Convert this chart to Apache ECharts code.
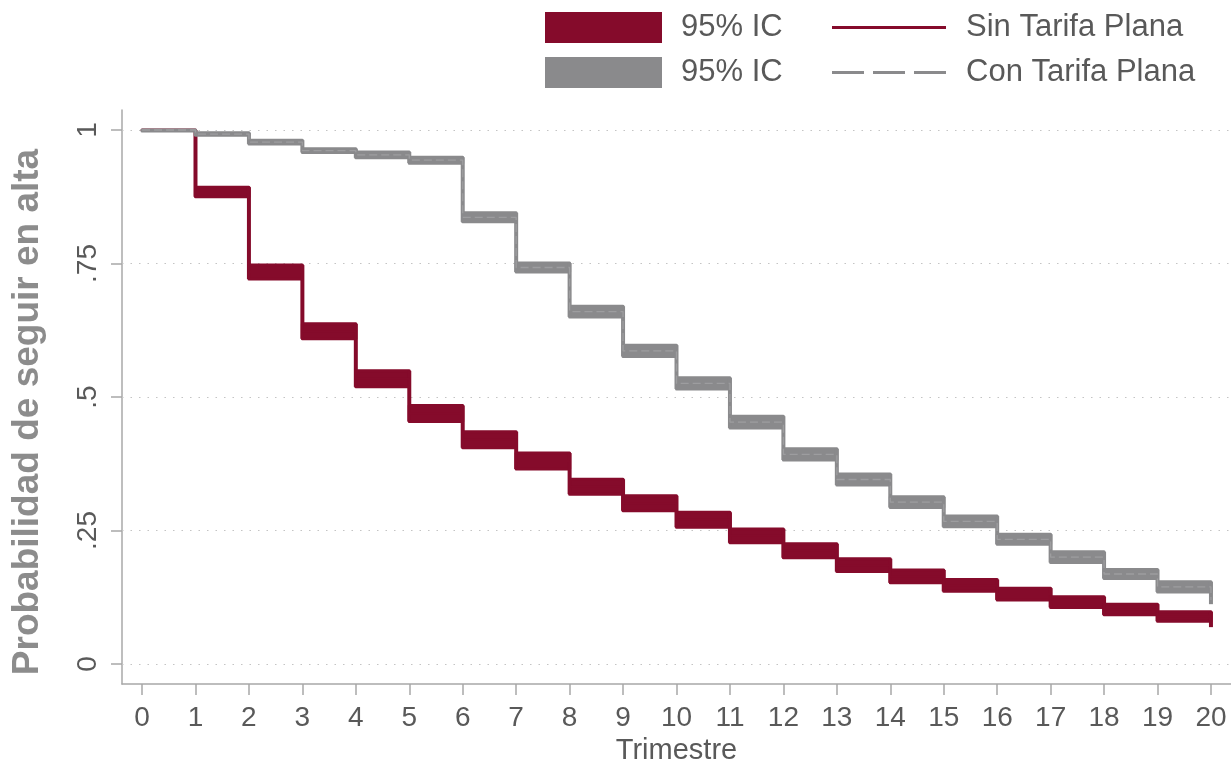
<!DOCTYPE html>
<html><head><meta charset="utf-8">
<script src="https://cdn.jsdelivr.net/npm/echarts@6/dist/echarts.min.js"></script>
<style>html,body{margin:0;padding:0;background:#fff}#c{width:1231px;height:764px}</style>
</head><body><div id="c"></div>
<script>
const quarters = [0,1,2,3,4,5,6,7,8,9,10,11,12,13,14,15,16,17,18,19,20];
const sinEst = [1, 0.884, 0.734, 0.623, 0.534, 0.469, 0.420, 0.380, 0.332, 0.301, 0.270, 0.240, 0.212, 0.185, 0.164, 0.147, 0.131, 0.116, 0.102, 0.089, 0.077];
const sinLo  = [1, 0.875, 0.721, 0.609, 0.519, 0.454, 0.405, 0.365, 0.318, 0.287, 0.256, 0.227, 0.199, 0.173, 0.152, 0.136, 0.120, 0.106, 0.092, 0.080, 0.069];
const sinHi  = [1, 0.893, 0.747, 0.637, 0.549, 0.484, 0.435, 0.395, 0.346, 0.315, 0.284, 0.253, 0.225, 0.197, 0.176, 0.158, 0.142, 0.126, 0.112, 0.098, 0.085];
const conEst = [1, 0.9925, 0.9775, 0.9615, 0.9535, 0.9435, 0.8365, 0.7425, 0.660, 0.5865, 0.5255, 0.453, 0.3925, 0.3455, 0.303, 0.267, 0.2335, 0.200, 0.1685, 0.1445, 0.120];
const conLo  = [0.998, 0.990, 0.974, 0.958, 0.948, 0.938, 0.828, 0.734, 0.650, 0.576, 0.515, 0.442, 0.382, 0.335, 0.293, 0.257, 0.224, 0.190, 0.160, 0.135, 0.112];
const conHi  = [1.0, 0.995, 0.981, 0.965, 0.959, 0.949, 0.845, 0.751, 0.670, 0.597, 0.536, 0.464, 0.403, 0.356, 0.313, 0.277, 0.243, 0.210, 0.177, 0.154, 0.128];
const yTicks = [0, 0.25, 0.5, 0.75, 1];
const yTickLabels = ['0', '.25', '.5', '.75', '1'];
const xTitle = 'Trimestre';
const yTitle = 'Probabilidad de seguir en alta';

const RED = '#850b2b', GRAY = '#8a8a8c', AXIS = '#a8a8a8', TXT = '#595959';
const FONT = '"Liberation Sans", Arial, Helvetica, sans-serif';
const pairs = (arr) => quarters.map((q, i) => [q, arr[i]]);
function bandData(lo, hi) {
  const out = [];
  for (let i = 0; i < quarters.length - 1; i++) out.push([quarters[i], quarters[i + 1], lo[i], hi[i], lo[i + 1]]);
  return out;
}
function bandRender(color) {
  return function (params, api) {
    const x0 = api.value(0), x1 = api.value(1), lo = api.value(2), hi = api.value(3), loNext = api.value(4);
    const pTL = api.coord([x0, hi]), pBR = api.coord([x1, lo]), pN = api.coord([x1, loNext]);
    return {type: 'group', children: [
      {type: 'rect', shape: {x: pTL[0], y: pTL[1], width: pBR[0] - pTL[0], height: pBR[1] - pTL[1]},
       style: {fill: color, stroke: color, lineWidth: 3, lineJoin: 'round'}},
      {type: 'line', shape: {x1: pBR[0], y1: pTL[1], x2: pN[0], y2: pN[1]},
       style: {stroke: color, lineWidth: 4, lineCap: 'butt'}}
    ]};
  };
}
const lineIconSolid = 'path://M0,0H114V3H0Z';
const lineIconDash = 'path://M0,0H32V3H0Z M41,0H73V3H41Z M82,0H114V3H82Z';

const chart = echarts.init(document.getElementById('c'), null, {renderer: 'canvas'});
chart.setOption({
  animation: false,
  textStyle: {fontFamily: FONT},
  grid: [
    {left: 122, right: 0, top: 110, bottom: 80, outerBoundsMode: 'none', containLabel: false},
    {left: 142, right: 20, top: 130, bottom: 100, outerBoundsMode: 'none', containLabel: false}
  ],
  xAxis: [
    {gridIndex: 0, type: 'value', min: -0.375, max: 20.375,
     axisLine: {show: true, onZero: false, lineStyle: {color: AXIS, width: 1.5}},
     axisTick: {show: false}, axisLabel: {show: false}, splitLine: {show: false}},
    {gridIndex: 1, type: 'value', min: 0, max: 20, interval: 1, offset: 20,
     axisLine: {show: false, onZero: false}, axisTick: {show: true, length: 11, lineStyle: {color: AXIS, width: 1.5}},
     axisLabel: {fontSize: 28, color: TXT, margin: 20, fontFamily: FONT},
     splitLine: {show: false},
     name: xTitle, nameLocation: 'middle', nameGap: 50,
     nameTextStyle: {fontSize: 29, color: TXT, fontFamily: FONT}}
  ],
  yAxis: [
    {gridIndex: 0, type: 'value', min: -0.0375, max: 1.0375,
     axisLine: {show: true, onZero: false, lineStyle: {color: AXIS, width: 1.5}},
     axisTick: {show: false}, axisLabel: {show: false}, splitLine: {show: false}},
    {gridIndex: 1, type: 'value', min: 0, max: 1, interval: 0.25, offset: 20,
     axisLine: {show: false, onZero: false}, axisTick: {show: true, length: 11, lineStyle: {color: AXIS, width: 1.5}},
     axisLabel: {fontSize: 28, color: TXT, rotate: 90, margin: 20, fontFamily: FONT,
       formatter: (v) => yTickLabels[yTicks.indexOf(v)]},
     splitLine: {show: false},
     name: yTitle, nameLocation: 'middle', nameGap: 76,
     nameTextStyle: {fontSize: 37, fontWeight: 'bold', color: '#8c8c8c', fontFamily: FONT, padding: [0, 30, 0, 0]}}
  ],
  legend: [
    {orient: 'vertical', left: 545, top: 12, padding: 0, itemWidth: 117, itemHeight: 31, itemGap: 14,
     selectedMode: false, formatter: () => '95% IC',
     textStyle: {fontSize: 31, color: TXT, fontFamily: FONT, padding: [0, 0, 0, 14]},
     data: [{name: 'IC Sin', icon: 'rect', itemStyle: {color: RED}},
            {name: 'IC Con', icon: 'rect', itemStyle: {color: GRAY}}]},
    {orient: 'vertical', left: 832, top: 12, padding: 0, itemWidth: 114, itemHeight: 31, itemGap: 14,
     selectedMode: false, symbolKeepAspect: true,
     textStyle: {fontSize: 31, color: TXT, fontFamily: FONT, padding: [0, 0, 0, 15]},
     data: [{name: 'Sin Tarifa Plana', icon: lineIconSolid, itemStyle: {color: RED}},
            {name: 'Con Tarifa Plana', icon: lineIconDash, itemStyle: {color: GRAY}}]}
  ],
  series: [
    {name: 'grid', type: 'line', xAxisIndex: 0, yAxisIndex: 0, data: [], silent: true,
     markLine: {silent: true, symbol: 'none', z: 1, label: {show: false},
       lineStyle: {color: '#c4c4c4', width: 1.2, type: [1.5, 7]},
       data: yTicks.map(v => ({yAxis: v}))}},
    {name: 'IC Sin', type: 'custom', xAxisIndex: 0, yAxisIndex: 0, clip: false, z: 2,
     renderItem: bandRender(RED), encode: {x: [0, 1], y: [2, 3, 4]},
     data: bandData(sinLo, sinHi), itemStyle: {color: RED}},
    {name: 'Sin Tarifa Plana', type: 'line', xAxisIndex: 0, yAxisIndex: 0, step: 'end', z: 2,
     symbol: 'none', data: pairs(sinEst), lineStyle: {color: RED, width: 2}, itemStyle: {color: RED}},
    {name: 'IC Con', type: 'custom', xAxisIndex: 0, yAxisIndex: 0, clip: false, z: 3,
     renderItem: bandRender(GRAY), encode: {x: [0, 1], y: [2, 3, 4]},
     data: bandData(conLo, conHi), itemStyle: {color: GRAY}},
    {name: 'Con Tarifa Plana', type: 'line', xAxisIndex: 0, yAxisIndex: 0, step: 'end', z: 4,
     symbol: 'none', data: pairs(conEst), lineStyle: {color: '#9d9d9f', width: 1.3, type: [8, 4]},
     itemStyle: {color: GRAY}}
  ]
});
</script></body></html>
